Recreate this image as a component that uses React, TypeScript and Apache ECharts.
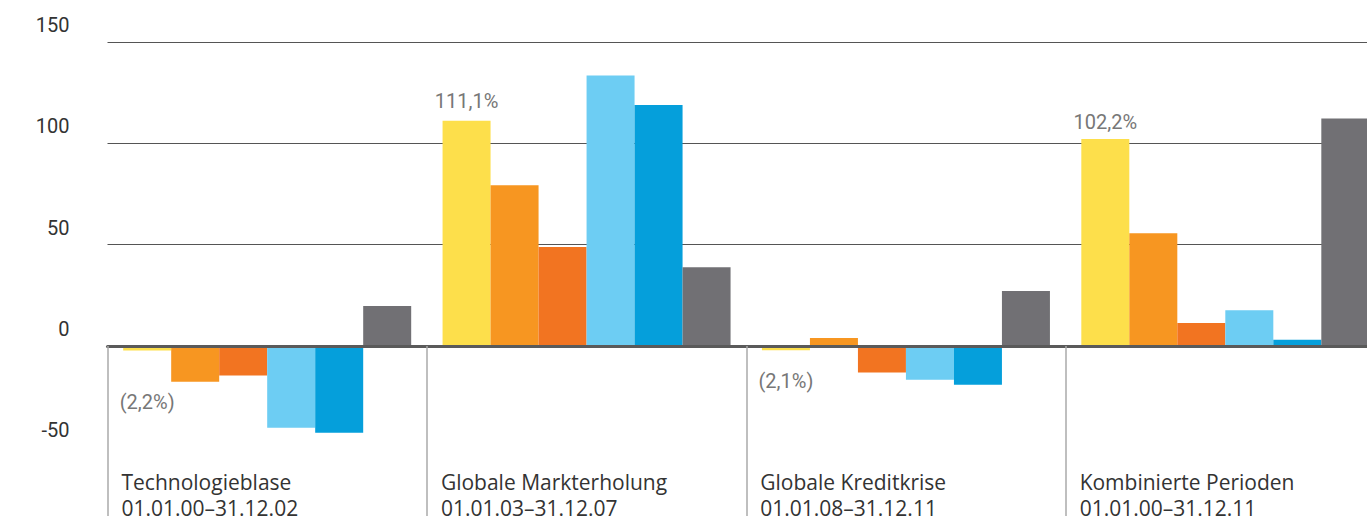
import React, { useEffect, useRef } from "react";
import * as echarts from "echarts";

const categories = [
  "Technologieblase\n01.01.00–31.12.02",
  "Globale Markterholung\n01.01.03–31.12.07",
  "Globale Kreditkrise\n01.01.08–31.12.11",
  "Kombinierte Perioden\n01.01.00–31.12.11",
];

const seriesNames = ["Serie 1", "Serie 2", "Serie 3", "Serie 4", "Serie 5", "Serie 6"];
const yellowValues = [-2.2, 111.1, -2.1, 102.2];
const orangeValues = [-17.6, 79.3, 3.9, 55.7];
const darkOrangeValues = [-14.6, 48.8, -13.1, 11.3];
const lightBlueValues = [-40.3, 133.5, -16.6, 17.7];
const blueValues = [-42.8, 118.9, -19.1, 3.1];
const grayValues = [19.7, 38.9, 27.1, 112.3];

const yTicks = { min: -100, max: 150, interval: 50 };

const colors = ["#FDDF4B", "#F79621", "#F27421", "#6DCDF3", "#059FDB", "#717074"];
const yellowLabelDistance = [42, 10, 21, 7];

const FONT = "Roboto, 'Noto Sans', sans-serif";
const CAT_FONT = "'Open Sans', Roboto, sans-serif";

function fmtPct(v: number): string {
  const s = Math.abs(v).toFixed(1).replace(".", ",") + "%";
  return v < 0 ? "(" + s + ")" : s;
}

export default function App() {
  const ref = useRef<HTMLDivElement>(null);
  useEffect(() => {
    if (!ref.current) return;
    const chart = echarts.init(ref.current, undefined, { renderer: "svg" });
    const all = [yellowValues, orangeValues, darkOrangeValues, lightBlueValues, blueValues, grayValues];
    const series = all.map((vals, i) => ({
      name: seriesNames[i],
      type: "bar",
      xAxisIndex: 2,
      barWidth: 48,
      barGap: "0%",
      itemStyle: { color: colors[i] },
      data:
        i === 0
          ? vals.map((v, j) => ({
              value: v,
              label: {
                show: true,
                position: "outside",
                distance: yellowLabelDistance[j],
                formatter: (p: any) => fmtPct(p.value),
                color: "#777",
                fontSize: 20,
                fontFamily: FONT,
              },
            }))
          : vals,
    }));
    chart.setOption({
      animation: false,
      textStyle: { fontFamily: FONT },
      grid: {
        left: 107.5,
        right: 15,
        top: 42,
        bottom: 11.3,
        containLabel: false,
        outerBoundsMode: "none",
      },
      xAxis: [
        {
          type: "category",
          data: [...categories, ""],
          boundaryGap: false,
          position: "bottom",
          axisLine: { show: true, onZero: true, lineStyle: { color: "#5a5a5a", width: 3 } },
          axisTick: {
            show: true,
            inside: false,
            length: 230,
            interval: 0,
            lineStyle: { color: "#aaaaaa", width: 1.5 },
          },
          axisLabel: { show: false },
          splitLine: { show: false },
          z: 5,
        },
        {
          type: "category",
          data: [...categories, ""],
          boundaryGap: false,
          position: "bottom",
          axisLine: { show: false, onZero: false },
          axisTick: { show: false },
          axisLabel: {
            show: true,
            interval: 0,
            showMinLabel: true,
            showMaxLabel: true,
            hideOverlap: false,
            align: "left",
            verticalAlign: "top",
            margin: -80,
            padding: [0, 0, 0, 14],
            fontSize: 21,
            lineHeight: 26,
            color: "#333",
            fontFamily: CAT_FONT,
          },
          splitLine: { show: false },
        },
        {
          type: "category",
          data: categories.map((c) => c),
          position: "bottom",
          show: false,
          axisLine: { onZero: false },
        },
      ],
      yAxis: {
        type: "value",
        min: yTicks.min,
        max: yTicks.max,
        interval: yTicks.interval,
        axisLine: { show: false },
        axisTick: { show: false },
        axisLabel: {
          margin: 38,
          fontSize: 20,
          lineHeight: 34,
          color: "#333",
          verticalAlign: "bottom",
          fontFamily: FONT,
          showMinLabel: false,
        },
        splitLine: {
          show: true,
          lineStyle: {
            color: ["rgba(0,0,0,0)", "rgba(0,0,0,0)", "rgba(0,0,0,0)", "#555", "#555", "#555"],
            width: 1,
          },
        },
      },
      series,
    });
    return () => chart.dispose();
  }, []);
  return (
    <div
      ref={ref}
      style={{ position: "fixed", left: 0, top: 0, width: 1400, height: 560, background: "#fff" }}
    />
  );
}
